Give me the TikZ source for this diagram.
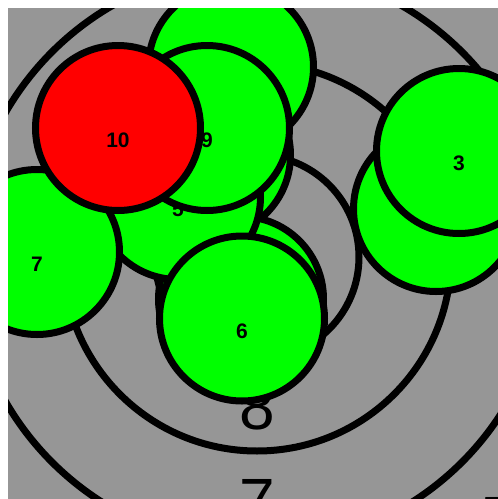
\documentclass[tikz,border=0pt]{standalone}
\usepackage{fontspec}
\setmainfont{Liberation Sans}
\definecolor{bggray}{RGB}{150,150,150}
\tikzset{
  ring/.style={draw=black,line width=7pt},
  shot/.style={draw=black,line width=7pt},
  shotlbl/.style={font=\fontsize{21}{21}\selectfont\bfseries,inner sep=0pt},
  ringlbl/.style={font=\fontsize{64}{64}\selectfont,inner sep=0pt}
}
\begin{document}
\begin{tikzpicture}[x=1pt,y=-1pt]
        \useasboundingbox (0,0) rectangle (498,499);
        \clip (8,8) rectangle (498,499);
        \fill[bggray] (8,8) rectangle (498,499);
        % target rings
        \foreach \r in {102,194,290}{
          \draw[ring] (257,257) circle (\r pt);}
        \node[ringlbl] (r8) at (257,407.5) {8};
        \node[ringlbl] (r7) at (257.5,501) {7};
        \node[ringlbl,anchor=north west] (r5) at (480,497.5) {5};
        % shots, last one on top
        \foreach \n/\x/\y/\c in {1/436/209/green,2/208/155/green,3/459/151/green,
          4/241/299/green,5/178/197/green,6/242/318.5/green,7/37/252/green,
          8/231/67/green,9/207/128/green,10/118/128/red}{
          \draw[shot,fill=\c] (\x,\y) circle (82.5pt);
          \node[shotlbl] (s\n) at (\x,\y+12.5) {\n};}
      \end{tikzpicture}
\end{document}
